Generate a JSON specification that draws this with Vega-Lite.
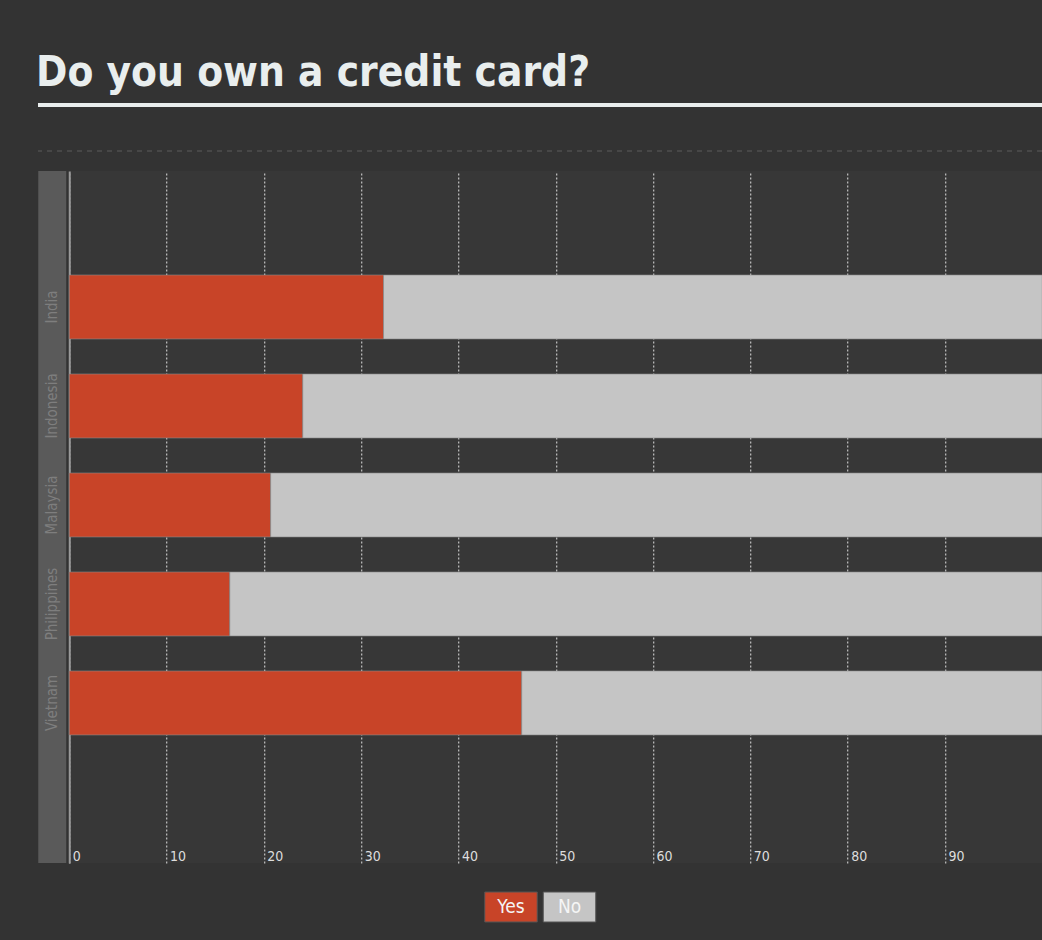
{
  "$schema": "https://vega.github.io/schema/vega-lite/v6.json",
  "background": "#333333",
  "padding": {"left": 36, "top": 52, "right": 0, "bottom": 18},
  "title": {
    "text": "Do you own a credit card?",
    "anchor": "start",
    "font": "DejaVu Sans Condensed, sans-serif",
    "fontSize": 42,
    "fontWeight": "bold",
    "color": "#e9eeee",
    "offset": 8
  },
  "config": {
    "view": {"stroke": null},
    "font": "DejaVu Sans Condensed, sans-serif"
  },
  "datasets": {
    "survey": [
      {"country": "India", "answer": "Yes", "pct": 32.3},
      {"country": "India", "answer": "No", "pct": 67.7},
      {"country": "Indonesia", "answer": "Yes", "pct": 24.0},
      {"country": "Indonesia", "answer": "No", "pct": 76.0},
      {"country": "Malaysia", "answer": "Yes", "pct": 20.7},
      {"country": "Malaysia", "answer": "No", "pct": 79.3},
      {"country": "Philippines", "answer": "Yes", "pct": 16.5},
      {"country": "Philippines", "answer": "No", "pct": 83.5},
      {"country": "Vietnam", "answer": "Yes", "pct": 46.5},
      {"country": "Vietnam", "answer": "No", "pct": 53.5}
    ],
    "countries": [
      {"country": "India"},
      {"country": "Indonesia"},
      {"country": "Malaysia"},
      {"country": "Philippines"},
      {"country": "Vietnam"}
    ],
    "answers": [
      {"answer": "Yes"},
      {"answer": "No"}
    ],
    "rules": [
      {"line": "underline", "pos": 1},
      {"line": "separator", "pos": 0}
    ]
  },
  "spacing": 19,
  "vconcat": [
    {
      "width": 1004,
      "height": 46,
      "data": {"name": "rules"},
      "layer": [
        {
          "transform": [{"filter": "datum.line === 'underline'"}],
          "mark": {"type": "rule", "color": "#e9eeee", "strokeWidth": 4},
          "encoding": {
            "y": {"field": "pos", "type": "quantitative", "scale": {"domain": [0, 1]}, "axis": null}
          }
        },
        {
          "transform": [{"filter": "datum.line === 'separator'"}],
          "mark": {"type": "rule", "color": "#474747", "strokeWidth": 2, "strokeDash": [5, 5]},
          "encoding": {
            "y": {"field": "pos", "type": "quantitative", "scale": {"domain": [0, 1]}, "axis": null}
          }
        }
      ]
    },
    {
      "spacing": 28,
      "center": true,
      "vconcat": [
        {
          "spacing": 2,
          "hconcat": [
            {
              "width": 28,
              "height": 692,
              "view": {"fill": "#5a5a5a", "stroke": null},
              "data": {"name": "countries"},
              "mark": {"type": "text", "angle": 270, "align": "center", "baseline": "middle", "fontSize": 15, "color": "#7e7e7e"},
              "encoding": {
                "y": {
                  "field": "country", "type": "nominal", "sort": null,
                  "scale": {"type": "band", "domain": ["_top", "India", "Indonesia", "Malaysia", "Philippines", "Vietnam", "_bottom"], "paddingInner": 0.354, "paddingOuter": 0.172, "align": 0.147},
                  "axis": null
                },
                "text": {"field": "country"}
              }
            },
            {
              "width": 973,
              "height": 692,
              "view": {"fill": "#373737", "stroke": null},
              "data": {"name": "survey"},
              "mark": {"type": "bar", "stroke": "#888888", "strokeWidth": 1, "strokeOpacity": 0.6},
              "encoding": {
                "y": {
                  "field": "country", "type": "nominal", "sort": null,
                  "scale": {"type": "band", "domain": ["_top", "India", "Indonesia", "Malaysia", "Philippines", "Vietnam", "_bottom"], "paddingInner": 0.354, "paddingOuter": 0.172, "align": 0.147},
                  "axis": {"labels": false, "ticks": false, "title": null, "domain": true, "domainColor": "#9a9a9a", "domainWidth": 2, "grid": false}
                },
                "x": {
                  "field": "pct", "type": "quantitative", "stack": "zero",
                  "scale": {"domain": [0, 100], "nice": false},
                  "axis": {
                    "values": [0, 10, 20, 30, 40, 50, 60, 70, 80, 90],
                    "grid": true, "gridDash": [2, 2], "gridColor": "#e0e0e0", "gridWidth": 1,
                    "domain": false, "ticks": false, "title": null,
                    "labelAlign": "left", "labelOffset": 3, "labelPadding": -3, "labelBaseline": "alphabetic",
                    "labelColor": "#dddddd", "labelFontSize": 14, "labelFlush": false
                  }
                },
                "color": {
                  "field": "answer", "type": "nominal",
                  "scale": {"domain": ["Yes", "No"], "range": ["#c84428", "#c5c5c5"]},
                  "legend": null
                },
                "order": {"field": "answer", "sort": "descending"}
              }
            }
          ]
        },
        {
          "width": 111,
          "height": 30,
          "data": {"name": "answers"},
          "encoding": {
            "x": {
              "field": "answer", "type": "nominal", "sort": null,
              "scale": {"type": "band", "domain": ["Yes", "No"], "paddingInner": 0.103, "paddingOuter": 0},
              "axis": null
            }
          },
          "layer": [
            {
              "mark": {"type": "bar", "stroke": "#555555", "strokeWidth": 1},
              "encoding": {
                "color": {
                  "field": "answer", "type": "nominal",
                  "scale": {"domain": ["Yes", "No"], "range": ["#c84428", "#c5c5c5"]},
                  "legend": null
                }
              }
            },
            {
              "mark": {"type": "text", "fontSize": 19, "color": "#f5f5f5", "baseline": "middle", "align": "center"},
              "encoding": {
                "text": {"field": "answer"}
              }
            }
          ]
        }
      ]
    }
  ]
}
